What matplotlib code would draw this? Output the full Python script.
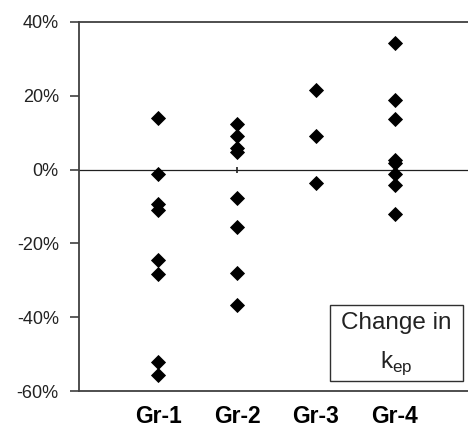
import matplotlib
matplotlib.use("Agg")
import matplotlib.pyplot as plt
from matplotlib.patches import Rectangle

plt.rcParams['font.family'] = ['Liberation Sans', 'DejaVu Sans']

# Data (change in k_ep per group, fraction)
groups = ['Gr-1', 'Gr-2', 'Gr-3', 'Gr-4']
gr1 = [0.140, -0.011, -0.093, -0.109, -0.244, -0.283, -0.521, -0.557]
gr2 = [0.123, 0.091, 0.059, 0.047, -0.076, -0.156, -0.280, -0.367]
gr3 = [0.216, 0.091, -0.036]
gr4 = [0.343, 0.189, 0.137, 0.027, 0.018, -0.013, -0.041, -0.119]
yticks = [-0.6, -0.4, -0.2, 0.0, 0.2, 0.4]
ylabels = ['-60%', '-40%', '-20%', '0%', '20%', '40%']

fig = plt.figure(figsize=(4.68, 4.30), dpi=100)
ax = fig.add_axes([79 / 468, 39 / 430, 389 / 468, 369 / 430])

for i, vals in enumerate([gr1, gr2, gr3, gr4]):
    ax.plot([i + 1] * len(vals), vals, linestyle='none', marker='D',
            markersize=6.8, color='black', mec='black', mew=0.6, zorder=3)

# zero line with small crossing ticks at x=2 and x=4
ax.axhline(0, color='#202020', lw=0.9, zorder=2)
ax.plot([2, 4], [0, 0], linestyle='none', marker='|', markersize=5,
        mew=1.2, color='#202020', zorder=2)

ax.set_xlim(0, 389 / 79)
ax.set_ylim(-0.6, 0.4)

ax.set_yticks(yticks)
ax.set_yticklabels(ylabels, fontsize=13, color='#222222')
ax.tick_params(axis='y', direction='out', length=6.5, width=1.2,
               color='#404040', pad=8)

ax.set_xticks([1, 2, 3, 4])
ax.set_xticklabels(groups, fontsize=16.5, fontweight='bold')
ax.tick_params(axis='x', length=0, pad=10)

for s in ['left', 'top', 'bottom']:
    ax.spines[s].set_color('#404040')
    ax.spines[s].set_linewidth(1.3)
ax.spines['right'].set_visible(False)

# label box
ax.add_patch(Rectangle((0.645, 0.027), 0.342, 0.206, transform=ax.transAxes,
                       fill=True, facecolor='white', edgecolor='#303030',
                       lw=1.0, zorder=4))
ax.text(0.816, 0.184, 'Change in', transform=ax.transAxes, ha='center',
        va='center', fontsize=17.5, color='#222222', zorder=5)
ax.text(0.816, 0.075, r'k$_{\mathregular{ep}}$', transform=ax.transAxes,
        ha='center', va='center', fontsize=17.5, color='#222222', zorder=5)

fig.savefig('out.png', dpi=100)
